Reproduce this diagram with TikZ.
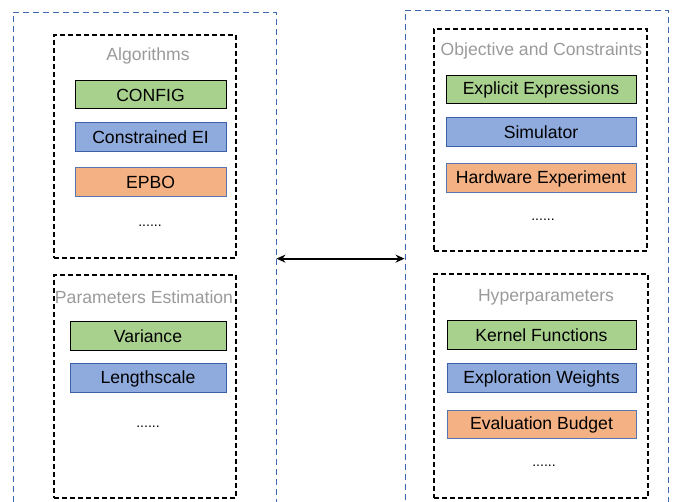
\documentclass[tikz,border=0pt]{standalone}
\usepackage{fontspec}
\setmainfont{Liberation Sans}
\usetikzlibrary{arrows.meta}
\definecolor{cgreen}{HTML}{A9D18E}
\definecolor{cblue}{HTML}{8FAADC}
\definecolor{corange}{HTML}{F4B183}
\definecolor{bblue}{HTML}{4472C4}
\definecolor{oblue}{HTML}{3D66B0}
\definecolor{tgray}{HTML}{9A9A9A}
\tikzset{
  every node/.style={font=\fontsize{17.6}{20}\selectfont, inner sep=0pt},
  outerbox/.style={draw=oblue, line width=0.9pt, dash pattern=on 6pt off 4pt, minimum width=263pt},
  innerbox/.style={draw=black, line width=1.3pt, dash pattern=on 5pt off 3pt},
  ttl/.style={text=tgray},
  gbox/.style={draw=black, line width=1pt, fill=cgreen, minimum height=28pt},
  bbox/.style={draw=bblue!85!black, line width=1pt, fill=cblue, minimum height=29pt},
  obox/.style={draw=bblue!70!gray, line width=1pt, fill=corange, minimum height=29pt},
  dots/.style={font=\fontsize{14}{16}\selectfont},
}
\begin{document}
\begin{tikzpicture}[x=1pt,y=-1pt]
\useasboundingbox (0,0) rectangle (681,502);
\clip (0,0) rectangle (681,502);
% outer containers
\node[outerbox, minimum height=520pt] (L) at (144.5,272) {};
\node[outerbox, minimum height=520pt] (R) at (536.5,270) {};
% inner groups
\node[innerbox, minimum width=182pt, minimum height=223pt] (alg) at (145,146.5) {};
\node[innerbox, minimum width=182pt, minimum height=223pt] (par) at (145,386.5) {};
\node[innerbox, minimum width=213pt, minimum height=222pt] (obj) at (540.5,140) {};
\node[innerbox, minimum width=214pt, minimum height=224pt] (hyp) at (541,386) {};
% left: algorithms
\node[ttl] (algt) at (148,56) {Algorithms};
\node[gbox, minimum width=151pt] (config) at (150.5,95) {CONFIG};
\node[bbox, minimum width=151pt] (cei) at (150.5,137.5) {Constrained EI};
\node[obox, minimum width=151pt] (epbo) at (150.5,182.5) {EPBO};
\node[dots] (algd) at (150,226) {......};
% left: parameters estimation
\node[ttl] (part) at (144,297) {Parameters Estimation};
\node[gbox, minimum width=156pt, minimum height=29pt] (var) at (148,336.5) {Variance};
\node[bbox, minimum width=156pt] (len) at (148,378.5) {Lengthscale};
\node[dots] (pard) at (148,427) {......};
% right: objective and constraints
\node[ttl] (objt) at (541.5,51) {Objective and Constraints};
\node[gbox, minimum width=190pt] (expl) at (541,90) {Explicit Expressions};
\node[bbox, minimum width=190pt] (sim) at (541,132.5) {Simulator};
\node[obox, minimum width=190pt] (hw) at (541,178.5) {Hardware Experiment};
\node[dots] (objd) at (543,220) {......};
% right: hyperparameters
\node[ttl] (hypt) at (546,297) {Hyperparameters};
\node[gbox, minimum width=189pt, minimum height=29pt] (kern) at (541.5,335.5) {Kernel Functions};
\node[bbox, minimum width=189pt] (expw) at (541.5,378.5) {Exploration Weights};
\node[obox, minimum width=189pt, minimum height=28pt] (evb) at (541.5,425) {Evaluation Budget};
\node[dots] (hypd) at (544,466) {......};
% connector
\draw[line width=2.2pt, {Stealth[length=9pt,width=8pt]}-{Stealth[length=9pt,width=8pt]}] (L.east |- alg.south) -- (R.west |- alg.south);
\end{tikzpicture}
\end{document}
